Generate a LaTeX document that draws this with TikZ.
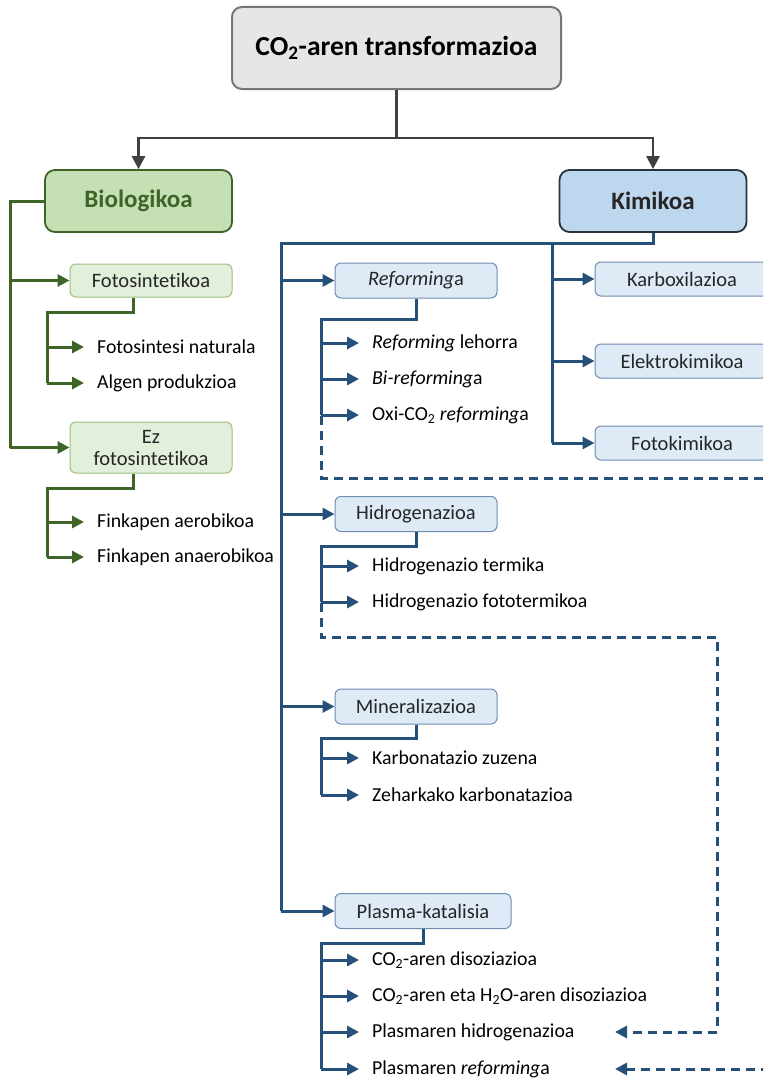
\documentclass[tikz,border=0pt]{standalone}
\usepackage{fontspec}
\setmainfont{Carlito}[Ligatures={NoCommon}]
\usetikzlibrary{arrows.meta}

\definecolor{gline}{HTML}{3F6428}
\definecolor{bline}{HTML}{24507A}
\definecolor{gfillA}{HTML}{C5E0B4}
\definecolor{gfillB}{HTML}{E2EFDA}
\definecolor{gbord}{HTML}{9DBF80}
\definecolor{bfillA}{HTML}{BDD7EE}
\definecolor{bfillB}{HTML}{DEEBF7}
\definecolor{bbord}{HTML}{6F8DB2}
\definecolor{tgray}{HTML}{E7E6E6}
\definecolor{tbord}{HTML}{767676}
\definecolor{darkline}{HTML}{404040}
\definecolor{kbord}{HTML}{2A3340}
\definecolor{txt}{HTML}{262626}

\newcommand{\cotwo}{CO\textsubscript{2}}
\newcommand{\htwo}{H\textsubscript{2}}

\tikzset{
  x=1pt, y=-1pt,
  titlebox/.style={draw=tbord, fill=tgray, line width=2pt, rounded corners=10pt,
    minimum width=329pt, minimum height=82pt, font=\fontsize{27.5}{32}\selectfont\bfseries},
  biobox/.style={draw=gline, fill=gfillA, line width=1.8pt, rounded corners=10pt,
    minimum width=187pt, minimum height=62pt, text=gline, font=\fontsize{25}{28}\selectfont\bfseries},
  kimbox/.style={draw=kbord, fill=bfillA, line width=1.8pt, rounded corners=10pt,
    minimum width=187pt, minimum height=62pt, text=txt, font=\fontsize{25}{28}\selectfont\bfseries},
  gsub/.style={draw=gbord, fill=gfillB, line width=1pt, rounded corners=6pt,
    minimum width=162pt, text=txt, font=\fontsize{20.5}{24}\selectfont, align=center, inner sep=0pt},
  bsub/.style={draw=bbord, fill=bfillB, line width=1pt, rounded corners=6pt,
    minimum width=162pt, minimum height=35pt, text=txt, font=\fontsize{20.5}{24}\selectfont, inner sep=0pt},
  leaf/.style={anchor=west, inner sep=0pt, text=black, font=\fontsize{19.8}{23}\selectfont},
  glink/.style={draw=gline, line width=3pt},
  blink/.style={draw=bline, line width=3pt},
  bdash/.style={draw=bline, line width=3pt, dash pattern=on 9pt off 6pt},
  garrow/.style={glink, -{Triangle[length=12pt,width=12pt]}},
  barrow/.style={blink, -{Triangle[length=12pt,width=12pt]}},
  bdarrow/.style={bdash, -{Triangle[length=12pt,width=12pt]}},
  karrow/.style={draw=darkline, line width=2.6pt, -{Triangle[length=13pt,width=13pt]}},
}

\begin{document}
\begin{tikzpicture}
\useasboundingbox (0,0) rectangle (763,1081);
\clip (0,0) rectangle (763,1081);
\fill[white] (0,0) rectangle (763,1081);

% top level
\node[titlebox] (title) at (396.5,48) {\cotwo-aren transformazioa};
\node[biobox] (bio) at (138.5,201) {Biologikoa};
\node[kimbox] (kim) at (653,201) {Kimikoa};

\coordinate (split) at (396.5,138);
\draw[karrow] (title.south) -- (split) -| (bio.north);
\draw[karrow] (split) -| (kim.north);

% biological branch
\node[gsub, minimum height=33pt] (foto) at (151,280.5) {Fotosintetikoa};
\node[gsub, minimum height=51pt] (ezfoto) at (151,447.5) {Ez\\[-2pt]fotosintetikoa};

\coordinate (gtrunk) at (10,201);
\coordinate (gdrop) at (133,0);
\draw[glink] (bio.west) -- (gtrunk) -- (10,447.5);
\draw[garrow] (10,280.5) -- (foto.west);
\draw[garrow] (10,447.5) -- (ezfoto.west);

\node[leaf] (l1) at (97,347) {Fotosintesi naturala};
\node[leaf] (l2) at (97,383) {Algen produkzioa};
\node[leaf] (l3) at (97,522) {Finkapen aerobikoa};
\node[leaf] (l4) at (97,557) {Finkapen anaerobikoa};

\draw[glink] (foto.south -| gdrop) -- (133,312) -- (47,312) -- (47,383);
\draw[garrow] (47,347) -- (84,347);
\draw[garrow] (47,383) -- (84,383);
\draw[glink] (ezfoto.south -| gdrop) -- (133,488) -- (47,488) -- (47,557);
\draw[garrow] (47,522) -- (84,522);
\draw[garrow] (47,557) -- (84,557);

% chemical branch
\node[bsub] (refo) at (416,280.5) {\itshape Reforming\upshape a};
\node[bsub] (hidro) at (416,514) {Hidrogenazioa};
\node[bsub] (miner) at (416,706.5) {Mineralizazioa};
\node[bsub, minimum width=176pt] (plasma) at (423,911) {Plasma-katalisia};

\node[bsub, minimum width=174pt, minimum height=34pt] (karb) at (682,279) {Karboxilazioa};
\node[bsub, minimum width=174pt, minimum height=34pt] (elek) at (682,361) {Elektrokimikoa};
\node[bsub, minimum width=174pt, minimum height=34pt] (fotok) at (682,443) {Fotokimikoa};

\coordinate (bsplit) at (653,243);
\draw[blink] (kim.south) -- (bsplit) -- (281,243) -- (281,911);
\draw[blink] (552,243) -- (552,443);
\draw[barrow] (552,279) -- (karb.west);
\draw[barrow] (552,361) -- (elek.west);
\draw[barrow] (552,443) -- (fotok.west);

\draw[barrow] (281,280.5) -- (refo.west);
\draw[barrow] (281,514) -- (hidro.west);
\draw[barrow] (281,706.5) -- (miner.west);
\draw[barrow] (281,911) -- (plasma.west);

% leaves of the chemical routes
\node[leaf] (r1) at (372,343) {\itshape Reforming\upshape\ lehorra};
\node[leaf] (r2) at (372,379) {\itshape Bi-reforming\upshape a};
\node[leaf] (r3) at (372,415) {Oxi-\cotwo\ \itshape reforming\upshape a};
\node[leaf] (h1) at (372,566) {Hidrogenazio termika};
\node[leaf] (h2) at (372,602) {Hidrogenazio fototermikoa};
\node[leaf] (m1) at (372,758) {Karbonatazio zuzena};
\node[leaf] (m2) at (372,795) {Zeharkako karbonatazioa};
\node[leaf] (p1) at (372,960) {\cotwo-aren disoziazioa};
\node[leaf] (p2) at (372,996) {\cotwo-aren eta \htwo O-aren disoziazioa};
\node[leaf] (p3) at (372,1032) {Plasmaren hidrogenazioa};
\node[leaf] (p4) at (372,1069) {Plasmaren \itshape reforming\upshape a};

\draw[blink] (refo.south) -- (416,319) -- (321,319) -- (321,415);
\draw[barrow] (321,343) -- (359,343);
\draw[barrow] (321,379) -- (359,379);
\draw[barrow] (321,415) -- (359,415);

\draw[blink] (hidro.south) -- (416,546) -- (321,546) -- (321,602);
\draw[barrow] (321,566) -- (359,566);
\draw[barrow] (321,602) -- (359,602);

\draw[blink] (miner.south) -- (416,738) -- (321,738) -- (321,795);
\draw[barrow] (321,758) -- (359,758);
\draw[barrow] (321,795) -- (359,795);

\draw[blink] (plasma.south) -- (423,943) -- (321,943) -- (321,1069);
\draw[barrow] (321,960) -- (359,960);
\draw[barrow] (321,996) -- (359,996);
\draw[barrow] (321,1032) -- (359,1032);
\draw[barrow] (321,1069) -- (359,1069);

% dashed feeds into the plasma routes
\coordinate (rfar) at (800,478);
\coordinate (rfar2) at (800,1069);
\draw[bdash] (321,416) -- (321,478) -- (rfar);
\draw[bdarrow] (rfar2) -- (615,1069);
\draw[bdash] (321,603) -- (321,637) -- (717,637) -- (717,1032);
\draw[bdarrow] (717,1032) -- (615,1032);
\end{tikzpicture}
\end{document}
